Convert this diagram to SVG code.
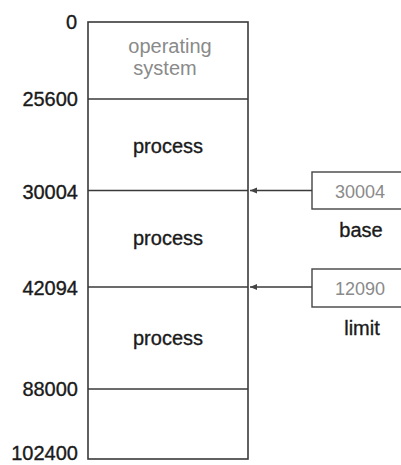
<svg xmlns="http://www.w3.org/2000/svg" width="401" height="465" viewBox="0 0 401 465">
<defs>
<style>
text{font-family:"Liberation Sans",Arial,sans-serif;font-size:20px;fill:#1a1a1a;stroke:#1a1a1a;stroke-width:0.35}
.addr{text-anchor:end}
.mid{text-anchor:middle}
.faint{fill:#8a8a8a;stroke:none}
.ln{stroke:#3a3a3a;stroke-width:1.6;fill:none}
.bx{stroke:#444;stroke-width:1.4;fill:#fff}
</style>
<marker id="ah" markerWidth="8" markerHeight="8" refX="7" refY="4" orient="auto" markerUnits="userSpaceOnUse">
<path d="M0,1 L7,4 L0,7 Z" fill="#444"/>
</marker>
</defs>
<g id="memory">
<rect x="88" y="22" width="160" height="437" class="ln"/>
<line x1="88" y1="99" x2="248" y2="99" class="ln"/>
<line x1="88" y1="389" x2="248" y2="389" class="ln"/>
</g>
<g id="os">
<text x="170" y="53" class="mid faint">operating</text>
<text x="165" y="75" class="mid faint">system</text>
</g>
<g id="process1"><text x="168" y="153" class="mid">process</text></g>
<g id="process2"><text x="168" y="245" class="mid">process</text></g>
<g id="process3"><text x="168" y="345" class="mid">process</text></g>
<g id="addresses">
<text x="77" y="29" class="addr">0</text>
<text x="78" y="106" class="addr">25600</text>
<text x="78" y="199" class="addr">30004</text>
<text x="78" y="295" class="addr">42094</text>
<text x="78" y="396" class="addr">88000</text>
<text x="78" y="460" class="addr">102400</text>
</g>
<g id="base">
<rect x="312" y="172" width="90" height="37" class="bx"/>
<text x="360" y="198" class="mid faint" style="font-size:18px">30004</text>
<text x="361" y="237" class="mid">base</text>
</g>
<g id="limit">
<rect x="312" y="269" width="90" height="38" class="bx"/>
<text x="360" y="295" class="mid faint" style="font-size:18px">12090</text>
<text x="362" y="335" class="mid">limit</text>
</g>
<g id="connectors">
<line x1="88" y1="190.5" x2="248" y2="190.5" class="ln"/>
<line x1="88" y1="287" x2="248" y2="287" class="ln"/>
<line x1="312" y1="190.5" x2="250" y2="190.5" class="ln" marker-end="url(#ah)"/>
<line x1="312" y1="287" x2="250" y2="287" class="ln" marker-end="url(#ah)"/>
</g>
</svg>
